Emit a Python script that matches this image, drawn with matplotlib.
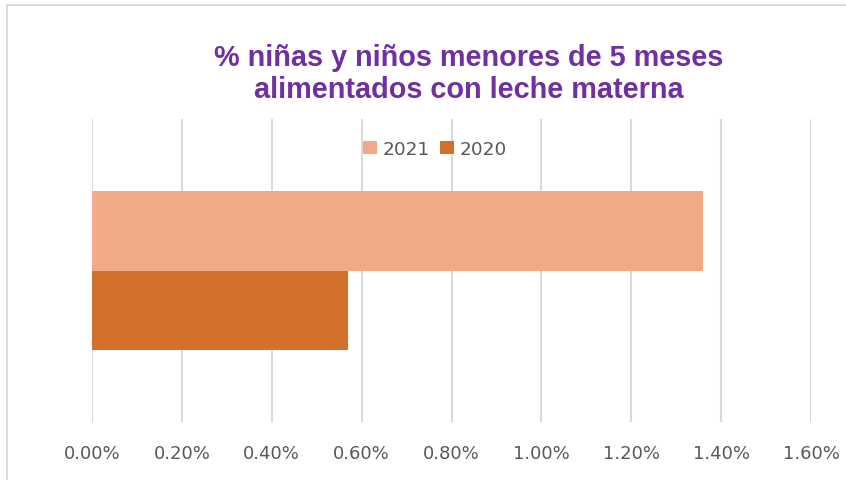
import matplotlib.pyplot as plt
from matplotlib.ticker import PercentFormatter
from matplotlib.lines import Line2D

# data
years = ["2021", "2020"]
values = [1.36, 0.57]          # percent
colors = ["#F1A988", "#D3702B"]
xticks = [0.0, 0.2, 0.4, 0.6, 0.8, 1.0, 1.2, 1.4, 1.6]
title = "% niñas y niños menores de 5 meses\nalimentados con leche materna"

W, H = 846, 481
fig = plt.figure(figsize=(W / 100, H / 100), dpi=100)

# chart border (light gray frame, left and top visible)
fig.add_artist(Line2D([6.5 / W, 6.5 / W], [0, 1 - 6 / H], color="#D9D9D9", lw=1.3))
fig.add_artist(Line2D([6.5 / W, 1], [1 - 6 / H, 1 - 6 / H], color="#D9D9D9", lw=1.3))

ax = fig.add_axes([92 / W, 1 - 423 / H, (811 - 92) / W, (423 - 120) / H])

bar_h = 0.263
offsets = [bar_h / 2, -bar_h / 2]
for name, val, col, off in zip(years, values, colors, offsets):
    ax.barh(off, val, height=bar_h, color=col, label=name, zorder=3)

ax.set_xlim(0, 1.6)
ax.set_ylim(-0.5, 0.5)
ax.set_xticks(xticks)
ax.xaxis.set_major_formatter(PercentFormatter(decimals=2))
ax.set_yticks([])
ax.grid(axis="x", color="#D9D9D9", lw=1.5, zorder=0)
for s in ax.spines.values():
    s.set_visible(False)
ax.tick_params(axis="x", length=0, pad=16, labelsize=13, labelcolor="#595959")

fig.text(469 / W, 1 - 74 / H, title, ha="center", va="center",
         fontsize=20.8, fontweight="bold", color="#7030A0",
         family="Liberation Sans", linespacing=1.22)

fig.legend(loc="center", bbox_to_anchor=(435 / W, 1 - 150 / H), ncol=2,
           frameon=False, fontsize=13.3, labelcolor="#595959",
           handlelength=0.76, handleheight=0.76, handletextpad=0.32,
           columnspacing=0.54, borderpad=0, borderaxespad=0)

fig.savefig("out.png", dpi=100)
